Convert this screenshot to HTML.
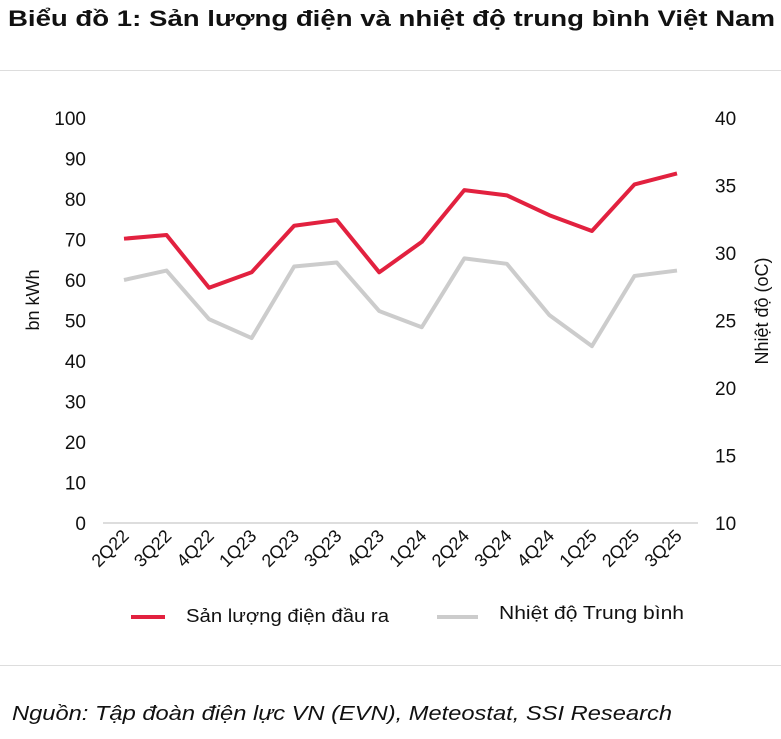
<!DOCTYPE html>
<html><head><meta charset="utf-8"><style>
body{margin:0;background:#fff;width:781px;height:734px;overflow:hidden;font-family:"Liberation Sans","Noto Sans CJK SC",sans-serif;}
</style></head><body>
<svg width="781" height="734" xmlns="http://www.w3.org/2000/svg" font-family="Liberation Sans, Noto Sans CJK SC, sans-serif">
<text x="8" y="26" font-size="22" font-weight="bold" fill="#111" textLength="767" lengthAdjust="spacingAndGlyphs">Biểu đồ 1: Sản lượng điện và nhiệt độ trung bình Việt Nam</text>
<line x1="0" y1="70.5" x2="781" y2="70.5" stroke="#ddd"/>
<line x1="0" y1="665.5" x2="781" y2="665.5" stroke="#ddd"/>
<line x1="103" y1="523" x2="698" y2="523" stroke="#ddd" stroke-width="2"/>
<g id="yl"></g><g id="yr"></g><g id="xl"></g><g id="lines"></g>
<text transform="translate(39,300) rotate(-90)" text-anchor="middle" font-size="18" fill="#111">bn kWh</text>
<text transform="translate(768,311) rotate(-90)" text-anchor="middle" font-size="18" fill="#111">Nhiệt độ (oC)</text>
<line x1="131" y1="617" x2="165" y2="617" stroke="#e2213f" stroke-width="4"/>
<text x="186" y="622" font-size="18" fill="#111" textLength="203" lengthAdjust="spacingAndGlyphs">Sản lượng điện đầu ra</text>
<line x1="437" y1="617" x2="478" y2="617" stroke="#cccccc" stroke-width="4"/>
<text x="499" y="619" font-size="18" fill="#111" textLength="185" lengthAdjust="spacingAndGlyphs">Nhiệt độ Trung bình</text>
<text x="12" y="720" font-size="20" font-style="italic" fill="#111" textLength="660" lengthAdjust="spacingAndGlyphs">Nguồn: Tập đoàn điện lực VN (EVN), Meteostat, SSI Research</text>
</svg>
<script>
const categories=["2Q22","3Q22","4Q22","1Q23","2Q23","3Q23","4Q23","1Q24","2Q24","3Q24","4Q24","1Q25","2Q25","3Q25"];
const outputValues=[70.2,71.1,58.1,61.9,73.4,74.8,61.9,69.4,82.2,80.9,76.0,72.1,83.6,86.3];
const tempValues=[28.0,28.7,25.1,23.7,29.0,29.3,25.7,24.5,29.6,29.2,25.4,23.1,28.3,28.7];
const leftTicks=[0,10,20,30,40,50,60,70,80,90,100];
const rightTicks=[10,15,20,25,30,35,40];
const NS="http://www.w3.org/2000/svg";
const x=i=>124+i*(677-124)/(categories.length-1);
const yL=v=>523-v*4.05;
const yR=v=>523-(v-10)*13.5;
function mk(t,a,p){const e=document.createElementNS(NS,t);for(const k in a)e.setAttribute(k,a[k]);document.getElementById(p).appendChild(e);return e;}
leftTicks.forEach(v=>{const t=mk('text',{x:86,y:yL(v)+7,'text-anchor':'end','font-size':19,fill:'#111'},'yl');t.textContent=v;

});
rightTicks.forEach(v=>{const t=mk('text',{x:715,y:yR(v)+7,'font-size':19,fill:'#111'},'yr');t.textContent=v;

});
categories.forEach((c,i)=>{const t=mk('text',{transform:`translate(${x(i)+6},${537}) rotate(-45)`,'text-anchor':'end','font-size':18,fill:'#111'},'xl');t.textContent=c;

});
const g=mk('polyline',{points:tempValues.map((v,i)=>x(i)+','+yR(v)).join(' '),fill:'none',stroke:'#cccccc','stroke-width':4,'stroke-linejoin':'round'},'lines');


const r=mk('polyline',{points:outputValues.map((v,i)=>x(i)+','+yL(v)).join(' '),fill:'none',stroke:'#e2213f','stroke-width':4,'stroke-linejoin':'round'},'lines');


</script>
</body></html>
